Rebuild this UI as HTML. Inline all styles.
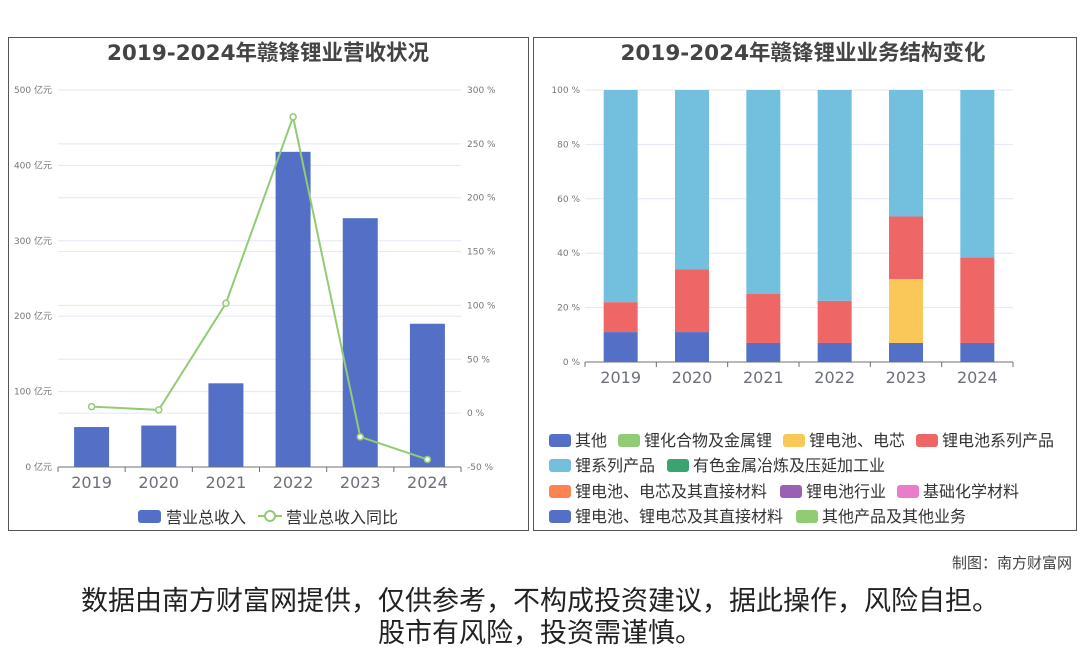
<!DOCTYPE html>
<html><head><meta charset="utf-8"><style>
body{margin:0;width:1080px;height:646px;background:#fff;overflow:hidden;font-family:"Liberation Sans","Noto Sans CJK SC",sans-serif}
.panel{position:absolute;border:1px solid #555;background:#fff}
.note{position:absolute;color:#222}
svg text{font-family:"DejaVu Sans","Noto Sans CJK SC",sans-serif}
</style></head><body>
<div class="panel" style="left:8px;top:37px;width:519px;height:492px"></div>
<div class="panel" style="left:533px;top:37px;width:542px;height:492px"></div>
<svg id="s" width="1080" height="646" style="position:absolute;left:0;top:0"></svg>
<div class="note" style="right:8px;top:552px;font-size:15px;color:#444">制图：南方财富网</div>
<div class="note" style="left:0;width:1080px;text-align:center;top:579px;font-size:27px">数据由南方财富网提供，仅供参考，不构成投资建议，据此操作，风险自担。</div>
<div class="note" style="left:0;width:1080px;text-align:center;top:611px;font-size:27px">股市有风险，投资需谨慎。</div>
<script>
const years=["2019","2020","2021","2022","2023","2024"];
const revenue=[53,55,111,418,330,190];
const growth=[6,3,102,275,-22,-43];
const leftTicks=[0,100,200,300,400,500];
const rightTicks=[-50,0,50,100,150,200,250,300];
const segNames=["其他","锂电池、电芯","锂电池系列产品","锂系列产品"];
const segOther=[11,11,7,7,7,7];
const segCell=[0,0,0,0,23.5,0];
const segBattery=[11,23,18,15.5,23,31.5];
const segLithium=[78,66,75,77.5,46.5,61.5];
const pctTicks=[0,20,40,60,80,100];
const NS="http://www.w3.org/2000/svg";
const svg=document.getElementById('s');
function el(t,a,txt){const e=document.createElementNS(NS,t);for(const k in a)e.setAttribute(k,a[k]);if(txt!==undefined)e.textContent=txt;svg.appendChild(e);return e;}
let t=el('text',{x:268,y:60,'text-anchor':'middle','font-size':21.5,'font-weight':'bold',fill:'#444'},'2019-2024年赣锋锂业营收状况');

t=el('text',{x:803,y:60,'text-anchor':'middle','font-size':21.5,'font-weight':'bold',fill:'#444'},'2019-2024年赣锋锂业业务结构变化');

const L={x0:58,x1:461,yTop:90,yBot:467};
const yL=v=>L.yBot-(v/500)*(L.yBot-L.yTop);
const yR=v=>L.yBot-((v+50)/350)*(L.yBot-L.yTop);
const bw=(L.x1-L.x0)/years.length;
const xC=i=>L.x0+bw*(i+0.5);
leftTicks.forEach(v=>{const g=el('line',{x1:L.x0,x2:L.x1,y1:yL(v),y2:yL(v),stroke:'#e3e7f2'});
const l=el('text',{x:52,y:yL(v)+3,'text-anchor':'end','font-size':9,fill:'#777'},v+' 亿元');});
rightTicks.forEach(v=>{const g=el('line',{x1:L.x0,x2:L.x1,y1:yR(v),y2:yR(v),stroke:'#e3e7f2'});
const l=el('text',{x:467,y:yR(v)+3,'font-size':9,fill:'#777'},v+' %');});
revenue.forEach((v,i)=>{const r=el('rect',{x:xC(i)-17.5,y:yL(v),width:35,height:yL(0)-yL(v),fill:'#5470c6'});});
let ax=el('line',{x1:L.x0,x2:L.x1,y1:L.yBot,y2:L.yBot,stroke:'#6e7079'});
years.forEach((y,i)=>{const k=el('line',{x1:L.x0+bw*i,x2:L.x0+bw*i,y1:L.yBot,y2:L.yBot+5,stroke:'#6e7079'});
const l=el('text',{x:xC(i),y:L.yBot+21,'text-anchor':'middle','font-size':16,fill:'#6e7079'},y);});
{const k=el('line',{x1:L.x1,x2:L.x1,y1:L.yBot,y2:L.yBot+5,stroke:'#6e7079'});}
let pl=el('polyline',{points:growth.map((v,i)=>xC(i)+','+yR(v)).join(' '),fill:'none',stroke:'#91cc75','stroke-width':2});
growth.forEach((v,i)=>{const c=el('circle',{cx:xC(i),cy:yR(v),r:3,fill:'#fff',stroke:'#91cc75','stroke-width':1.5});});
let lg=el('rect',{x:138,y:510,width:23,height:13,rx:3,fill:'#5470c6'});
lg=el('text',{x:166,y:523,'font-size':16,fill:'#333'},'营业总收入');
lg=el('line',{x1:258,x2:282,y1:516,y2:516,stroke:'#91cc75','stroke-width':2});
lg=el('circle',{cx:270,cy:516,r:5,fill:'#fff',stroke:'#91cc75','stroke-width':2});
lg=el('text',{x:286,y:523,'font-size':16,fill:'#333'},'营业总收入同比');
const R={x0:585,x1:1013,yTop:90,yBot:362};
const yP=v=>R.yBot-(v/100)*(R.yBot-R.yTop);
const rbw=(R.x1-R.x0)/years.length;
const rxC=i=>R.x0+rbw*(i+0.5);
pctTicks.forEach(v=>{const g=el('line',{x1:R.x0,x2:R.x1,y1:yP(v),y2:yP(v),stroke:'#e3e7f2'});
const l=el('text',{x:580,y:yP(v)+3,'text-anchor':'end','font-size':9,fill:'#777'},v+' %');});
const series=[segOther,segCell,segBattery,segLithium];
const cols=['#5470c6','#fac858','#ee6666','#73c0de'];
years.forEach((y,i)=>{let acc=0;series.forEach((s,j)=>{const v=s[i];if(v>0){const r=el('rect',{x:rxC(i)-17,y:yP(acc+v),width:34,height:yP(acc)-yP(acc+v),fill:cols[j]});}acc+=v;});});
ax=el('line',{x1:R.x0,x2:R.x1,y1:R.yBot,y2:R.yBot,stroke:'#6e7079'});
years.forEach((y,i)=>{const k=el('line',{x1:R.x0+rbw*i,x2:R.x0+rbw*i,y1:R.yBot,y2:R.yBot+5,stroke:'#6e7079'});
const l=el('text',{x:rxC(i),y:R.yBot+21,'text-anchor':'middle','font-size':16,fill:'#6e7079'},y);});
{const k=el('line',{x1:R.x1,x2:R.x1,y1:R.yBot,y2:R.yBot+5,stroke:'#6e7079'});}
const legendItems=[[549,440,'#5470c6','其他'],[618,440,'#91cc75','锂化合物及金属锂'],[783,440,'#fac858','锂电池、电芯'],[916,440,'#ee6666','锂电池系列产品'],
[549,465,'#73c0de','锂系列产品'],[667,465,'#3ba272','有色金属冶炼及压延加工业'],
[549,491,'#fc8452','锂电池、电芯及其直接材料'],[780,491,'#9a60b4','锂电池行业'],[897,491,'#ea7ccc','基础化学材料'],
[549,516,'#5470c6','锂电池、锂电芯及其直接材料'],[796,516,'#91cc75','其他产品及其他业务']];
legendItems.forEach(([x,y,c,n])=>{const r=el('rect',{x:x,y:y-6,width:22,height:13,rx:3,fill:c});
const l=el('text',{x:x+26,y:y+6,'font-size':16,fill:'#333'},n);});
</script>
</body></html>
